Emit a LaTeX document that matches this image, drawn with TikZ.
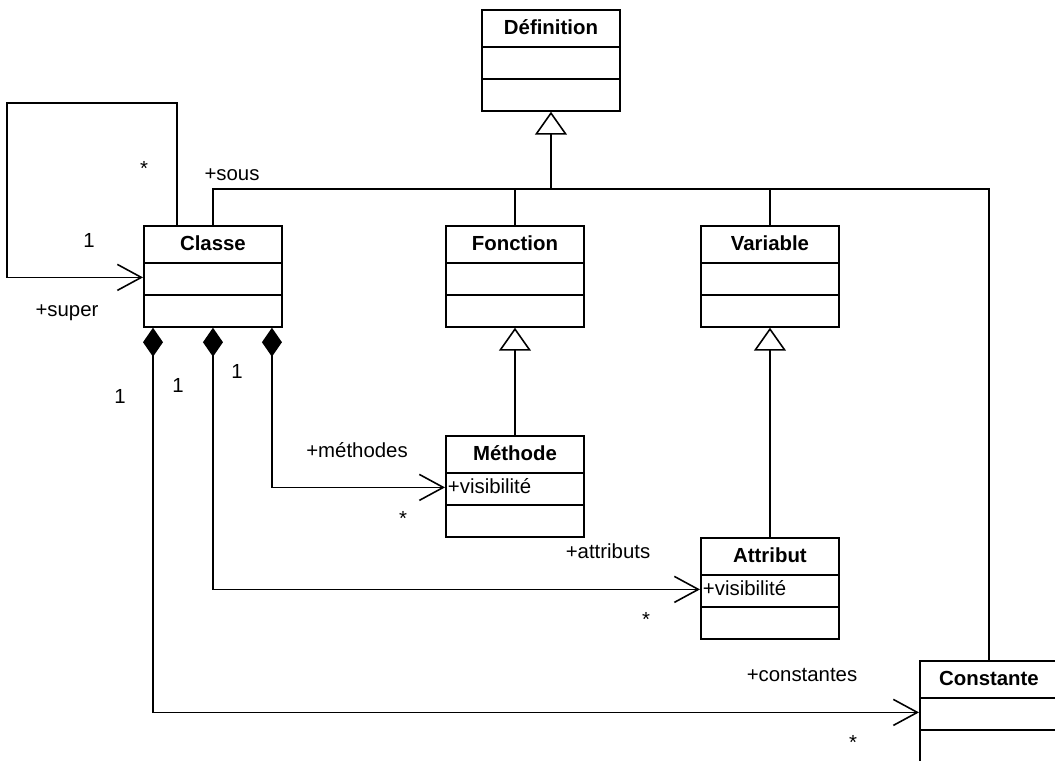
\documentclass[tikz,border=0pt]{standalone}
\usepackage{fontspec}
\setmainfont{Liberation Sans}
\usetikzlibrary{shapes.multipart,arrows.meta}

% fixed heights for the class compartments
\newcommand{\headstrut}{\rule[-0.23cm]{0pt}{0.70cm}}
\newcommand{\partstrut}{\rule[-0.20cm]{0pt}{0.60cm}}

\begin{document}
\begin{tikzpicture}[
    font=\fontsize{11.6}{14}\selectfont,
    cls/.style={rectangle split,rectangle split parts=3,draw,line width=1.1pt,
      minimum width=2.76cm,inner xsep=0.04cm,inner ysep=0,anchor=north west,
      rectangle split part align={center,left,left}},
    con/.style={line width=0.9pt},
    gen/.style={con,-{Triangle[open,length=0.46cm,width=0.64cm]}},
    comp/.style={con,{Diamond[length=0.58cm,width=0.4cm]}-{Straight Barb[length=0.48cm,width=0.52cm]}},
    nav/.style={con,-{Straight Barb[length=0.48cm,width=0.52cm]}}
    ]
    \useasboundingbox (0,0) rectangle (21.1,15.2);

    % classes
    \node[cls] (def) at (9.62,15.02) {\textbf{Définition}\headstrut\nodepart{two}\partstrut\nodepart{three}\partstrut};
    \node[cls] (classe) at (2.86,10.70) {\textbf{Classe}\headstrut\nodepart{two}\partstrut\nodepart{three}\partstrut};
    \node[cls] (fonction) at (8.90,10.70) {\textbf{Fonction}\headstrut\nodepart{two}\partstrut\nodepart{three}\partstrut};
    \node[cls] (variable) at (14.00,10.70) {\textbf{Variable}\headstrut\nodepart{two}\partstrut\nodepart{three}\partstrut};
    \node[cls] (methode) at (8.90,6.50) {\textbf{Méthode}\headstrut\nodepart{two}+visibilité\partstrut\nodepart{three}\partstrut};
    \node[cls] (attribut) at (14.00,4.46) {\textbf{Attribut}\headstrut\nodepart{two}+visibilité\partstrut\nodepart{three}\partstrut};
    \node[cls] (constante) at (18.38,2.00) {\textbf{Constante}\headstrut\nodepart{two}\partstrut\nodepart{three}\partstrut};

    \coordinate (bus) at (11.00,11.42);
    \coordinate (loop) at (0.14,13.14);

    % generalisations
    \draw[gen] (def.south |- bus) -- (def.south);
    \draw[con] (classe.north) |- (bus) -| (constante.north);
    \draw[con] (fonction.north) -- (fonction.north |- bus);
    \draw[con] (variable.north) -- (variable.north |- bus);
    \draw[gen] (methode.north) -- (fonction.south);
    \draw[gen] (attribut.north) -- (variable.south);

    % super / sous
    \draw[nav] ([xshift=0.68cm]classe.north west) |- (loop) |- ([yshift=-0.29cm]classe.text split west);

    % compositions
    \draw[comp] ([xshift=-0.22cm]classe.south east) |- ([yshift=-0.29cm]methode.text split west);
    \draw[comp] (classe.south) |- ([yshift=-0.29cm]attribut.text split west);
    \draw[comp] ([xshift=0.2cm]classe.south west) |- ([yshift=-0.29cm]constante.text split west);

    % role names and multiplicities
    \node (soustar) at (2.88,11.84) {*};
    \node (superone) at (1.78,10.40) {1};
    \node (super) at (1.34,8.94) {+super};
    \node (sous) at (4.64,11.70) {+sous};

    \node (cstone) at (2.40,7.28) {1};
    \node (attone) at (3.56,7.50) {1};
    \node (metone) at (4.74,7.78) {1};

    \node (methodes) at (7.14,6.20) {+méthodes};
    \node (metstar) at (8.06,4.84) {*};
    \node (attributs) at (12.16,4.18) {+attributs};
    \node (attstar) at (12.92,2.82) {*};
    \node (constantes) at (16.04,1.70) {+constantes};
    \node (cststar) at (17.06,0.36) {*};
  \end{tikzpicture}
\end{document}
